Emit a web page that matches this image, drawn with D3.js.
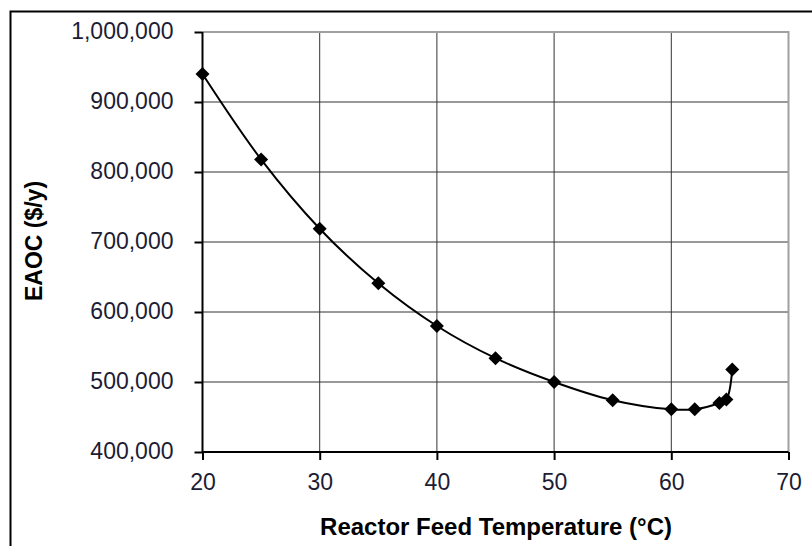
<!DOCTYPE html>
<html>
<head>
<meta charset="utf-8">
<script src="https://cdn.jsdelivr.net/npm/d3@7"></script>
<style>
    body { margin: 0; background: #ffffff; }
    #eaoc_chart { width: 812px; height: 546px; }
</style>
</head>
<body>
<div id="eaoc_chart"></div>
<script>
// data
const feedTemps = [20, 25, 30, 35, 40, 45, 50, 55, 60, 62, 64.1, 64.7, 65.2];
const eaocValues = [940000, 818000, 719000, 641000, 580000, 534000, 500000, 474000, 461000, 461000, 470000, 475000, 518000];
const xTicks = [20, 30, 40, 50, 60, 70];
const yTicks = [400000, 500000, 600000, 700000, 800000, 900000, 1000000];
const xTitle = 'Reactor Feed Temperature (°C)';
const yTitle = 'EAOC ($/y)';

const width = 812;
const height = 546;
const margin = { top: 32, right: 23.5, bottom: 94, left: 202.5 };
const font = "'Liberation Sans', Arial, sans-serif";
const labelColor = '#1c1c34';

const svg = d3.select('#eaoc_chart')
    .append('svg')
    .attr('width', width)
    .attr('height', height)
    .style('display', 'block');

// outer frame (runs off the right / bottom edge)
svg.append('rect')
    .attr('x', 10.5)
    .attr('y', 11.5)
    .attr('width', 900)
    .attr('height', 900)
    .attr('fill', 'none')
    .attr('stroke', '#000')
    .attr('stroke-width', 2);

const x = d3.scaleLinear()
    .domain([20, 70])
    .range([margin.left, width - margin.right]);

const y = d3.scaleLinear()
    .domain([400000, 1000000])
    .range([height - margin.bottom, margin.top]);

const plot_g = svg.append('g').attr('class', 'plot_g');

// grid
plot_g.append('g')
    .selectAll('line')
    .data(yTicks.slice(1, -1))
    .join('line')
    .attr('x1', x(20)).attr('x2', x(70))
    .attr('y1', d => y(d)).attr('y2', d => y(d))
    .attr('stroke', '#333')
    .attr('stroke-width', 1);

plot_g.append('g')
    .selectAll('line')
    .data(xTicks.slice(1, -1))
    .join('line')
    .attr('x1', d => x(d)).attr('x2', d => x(d))
    .attr('y1', y(400000)).attr('y2', y(1000000))
    .attr('stroke', '#333')
    .attr('stroke-width', 1);

// gray top/right edge of plot area
plot_g.append('path')
    .attr('d', `M${x(20)},${y(1000000)}H${x(70)}V${y(400000)}`)
    .attr('fill', 'none')
    .attr('stroke', '#a0a0a0')
    .attr('stroke-width', 2);

// axes
const xAxis = d3.axisBottom(x)
    .tickValues(xTicks)
    .tickSize(8)
    .tickPadding(14)
    .tickFormat(d3.format('d'));

const yAxis = d3.axisLeft(y)
    .tickValues(yTicks)
    .tickSize(8)
    .tickPadding(21)
    .tickFormat(d3.format(',d'));

const xg = svg.append('g')
    .attr('transform', `translate(0,${y(400000)})`)
    .call(xAxis);

const yg = svg.append('g')
    .attr('transform', `translate(${x(20)},0)`)
    .call(yAxis);

[xg, yg].forEach(g => {
    g.select('.domain')
        .attr('stroke', '#000')
        .attr('stroke-width', 2);
    g.selectAll('.tick line')
        .attr('stroke', '#000')
        .attr('stroke-width', 2);
    g.selectAll('.tick text')
        .attr('fill', labelColor)
        .style('font-family', font)
        .style('font-size', '23px');
});
xg.select('.domain').attr('d', `M${x(20)},0H${x(70)}`);
yg.select('.domain').attr('d', `M0,${y(400000)}V${y(1000000)}`);
yg.selectAll('.tick text').attr('dy', '0.3em');

// curve + markers
const points = feedTemps.map((t, i) => ({ t: t, v: eaocValues[i] }));

const line = d3.line()
    .x(d => x(d.t))
    .y(d => y(d.v))
    .curve(d3.curveCatmullRom.alpha(0.5));

plot_g.append('path')
    .datum(points)
    .attr('d', line)
    .attr('fill', 'none')
    .attr('stroke', '#000')
    .attr('stroke-width', 2);

const diamond = 'M0,-7L7,0L0,7L-7,0Z';
plot_g.append('g')
    .selectAll('path')
    .data(points)
    .join('path')
    .attr('d', diamond)
    .attr('transform', d => `translate(${x(d.t)},${y(d.v)})`)
    .attr('fill', '#000');

// axis titles
svg.append('text')
    .attr('x', 496)
    .attr('y', 535)
    .attr('text-anchor', 'middle')
    .style('font-family', font)
    .style('font-size', '24px')
    .style('font-weight', 'bold')
    .attr('fill', '#000')
    .text(xTitle);

svg.append('text')
    .attr('transform', 'translate(42,241) rotate(-90)')
    .attr('text-anchor', 'middle')
    .style('font-family', font)
    .style('font-size', '23px')
    .style('font-weight', 'bold')
    .attr('fill', '#000')
    .text(yTitle);
</script>
</body>
</html>
